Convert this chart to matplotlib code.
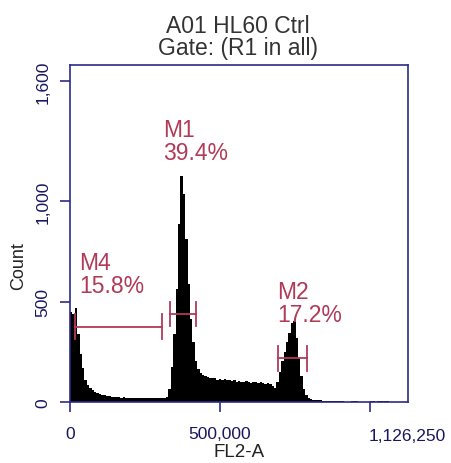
import numpy as np
import matplotlib
matplotlib.use('Agg')
import matplotlib.pyplot as plt

plt.rcParams['font.family'] = ['Liberation Sans', 'DejaVu Sans']

# FL2-A histogram, channel width 8000
bin_width = 8000
counts = [
    450, 440, 470, 340, 240, 170, 110, 85, 68, 58,
    50, 45, 40, 36, 33, 30, 30, 27, 26, 25,
    24, 22, 26, 20, 22, 18, 21, 20, 19, 22,
    18, 20, 19, 21, 18, 20, 22, 19, 20, 21,
    25, 65, 175, 340, 563, 887, 1127, 1037, 812, 588,
    414, 300, 204, 165, 145, 135, 130, 125, 120, 118,
    120, 112, 115, 110, 113, 108, 110, 104, 108, 100,
    105, 102, 98, 104, 100, 96, 102, 98, 95, 100,
    96, 92, 95, 88, 80, 70, 100, 150, 205, 250,
    300, 345, 395, 405, 320, 220, 130, 65, 35, 22,
    15, 10, 9, 8, 8, 7, 7, 6, 6, 6,
    5, 5, 5, 5, 0, 0, 0, 4, 5, 4,
    0, 0, 0, 0, 0, 5, 4, 0, 5, 5,
    4, 4, 4,
]

# markers: name, percent, start, end, level
marker_names = ['M4', 'M1', 'M2']
marker_pcts = ['15.8%', '39.4%', '17.2%']
marker_start = [16700, 333000, 694000]
marker_end = [307000, 420000, 790700]
marker_level = [375, 439, 218]
label_x = [30000, 310000, 690000]
label_y = [663, 1326, 518]

x_max = 1126250
y_max = 1680

navy = '#2b2b86'
tick_col = '#17175f'
mark_col = '#b03a58'

fig = plt.figure(figsize=(4.52, 4.64), dpi=100)
ax = fig.add_axes([70 / 452, 1 - 403 / 464, 338 / 452, 337 / 464])

edges = np.arange(len(counts)) * bin_width
ax.bar(edges, counts, width=bin_width, align='edge', color='black', linewidth=0)

cap = 62
for name, pct, x0, x1, lev, lx, ly in zip(marker_names, marker_pcts, marker_start,
                                          marker_end, marker_level, label_x, label_y):
    ax.plot([x0, x1], [lev, lev], color=mark_col, lw=1.3)
    ax.plot([x0, x0], [lev - cap, lev + cap], color=mark_col, lw=1.3)
    ax.plot([x1, x1], [lev - cap, lev + cap], color=mark_col, lw=1.3)
    ax.text(lx, ly, name, color=mark_col, fontsize=16.5, va='baseline', ha='left')
    ax.text(lx, ly - 115, pct, color=mark_col, fontsize=16.5, va='baseline', ha='left')

ax.set_xlim(0, x_max)
ax.set_ylim(0, y_max)

for s in ax.spines.values():
    s.set_color(navy)
    s.set_linewidth(1.2)

ax.set_xticks([0, 500000, 1000000])
ax.set_xticklabels(['0', '500,000', ''])
ax.set_yticks([0, 500, 1000, 1600])
ax.set_yticklabels(['0', '500', '1,000', '1,600'], rotation=90, va='center')
ax.tick_params(axis='both', direction='out', length=7, width=1.2, color=navy,
               labelcolor=tick_col, labelsize=12.5)
ax.tick_params(axis='x', pad=10)
ax.tick_params(axis='y', pad=7)

# right-end range label, right edge just inside the figure
ax.text(1.1125, -0.0775, '1,126,250', color=tick_col, fontsize=12.5,
        ha='right', va='top', transform=ax.transAxes, clip_on=False)

ax.set_xlabel('FL2-A', fontsize=13.5, color='#222222', labelpad=2)
fig.text(19 / 452, 1 - 266 / 464, 'Count', rotation=90, fontsize=13,
         color='#222222', ha='center', va='center')

fig.text(238 / 452, 1 - 33 / 464, 'A01 HL60 Ctrl', fontsize=16.5, color='#333333',
         ha='center', va='baseline')
fig.text(238 / 452, 1 - 55 / 464, 'Gate: (R1 in all)', fontsize=16.5, color='#333333',
         ha='center', va='baseline')

fig.savefig('out.png', dpi=100)
